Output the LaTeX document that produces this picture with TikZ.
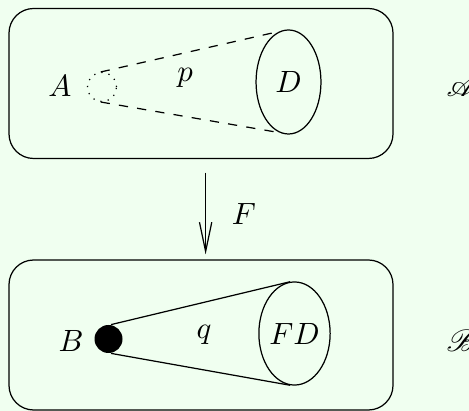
\documentclass[tikz,border=0pt]{standalone}
\usepackage{amsmath}
\usepackage{amssymb}
\usepackage{mathrsfs}
\usepackage{tikz}
\usetikzlibrary{shapes.geometric, arrows.meta, positioning, calc}
\definecolor{bgmint}{RGB}{240,255,240}

\tikzset{
  catbox/.style={rectangle, rounded corners=8pt, draw, thin,
    minimum width=124.8pt, minimum height=48.75pt},
  objset/.style={ellipse, draw, thin, inner sep=0pt},
  letter/.style={inner sep=0pt}
}

\begin{document}
\begin{tikzpicture}[x=0.325pt, y=-0.325pt]
    % --- Fundo ---
    \fill[bgmint] (0,0) rectangle (469,411);
    \useasboundingbox (0,0) rectangle (469,411);
    % --- Categoria de cima ---
    \node[catbox] (catA) at (201,83.5) {};
    \node[letter] (labA) at (60,86.5) {$A$};
    \node[circle, draw, dotted, thin, minimum size=9.4pt, inner sep=0pt] (ptA) at (102,87) {};
    \node[objset, minimum width=21.1pt, minimum height=33.8pt] (setD) at (288.5,82) {$D$};
    \node[letter] (labp) at (185,78) {$p$};
    \draw[dashed, thin] (ptA.95) -- (setD.100);
    \draw[dashed, thin] (ptA.265) -- (setD.260);
    \node[letter, anchor=base west] (catAname) at (446,97) {$\mathscr{A}$};
    % --- Categoria de baixo ---
    \node[catbox] (catB) at (201,335) {};
    \node[letter] (labB) at (71,341) {$B$};
    \node[circle, fill=black, minimum size=9.1pt, inner sep=0pt] (ptB) at (108.5,339) {};
    \node[objset, minimum width=22.4pt, minimum height=33.5pt] (setFD) at (294.5,333.5) {$FD$};
    \node[letter] (labq) at (204,335) {$q$};
    \draw[thin] (ptB.80) -- (setFD.95);
    \draw[thin] (ptB.280) -- (setFD.265);
    \node[letter, anchor=base west] (catBname) at (446,352) {$\mathscr{B}$};
    % --- Funtor ---
    \draw[thin, -{Straight Barb[length=9.5pt, width=4pt]}]
      ([xshift=1.5pt, yshift=-4.4pt]catA.south) -- ([xshift=1.5pt, yshift=1.6pt]catB.north)
      node[midway, right=5pt] (labF) {$F$};
\end{tikzpicture}
\end{document}
